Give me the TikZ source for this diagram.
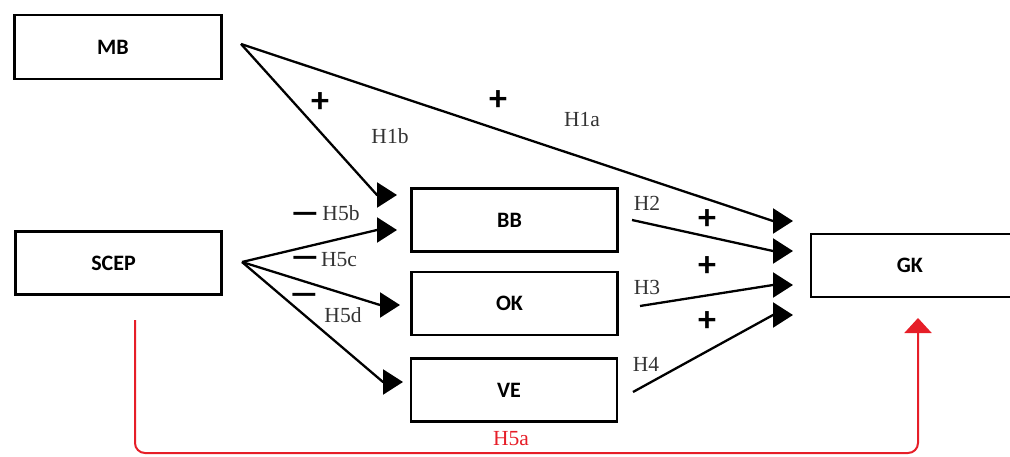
\documentclass[tikz,border=0pt]{standalone}
\usepackage{fontspec}
\setmainfont{Liberation Serif}
\newfontfamily\calib{Carlito}
\usetikzlibrary{arrows.meta}
\definecolor{hypred}{RGB}{230,30,40}
\begin{document}
\begin{tikzpicture}[x=1pt,y=-1pt,
  var/.style={draw, line width=2.6pt, minimum width=206pt, minimum height=63pt,
    inner sep=0pt, font=\calib\bfseries\fontsize{22}{24}\selectfont,
    execute at begin node={\hspace*{-10pt}}},
  link/.style={line width=2.3pt, line join=round,
    -{Triangle[length=20pt,width=25pt]}},
  redlink/.style={draw=hypred, line width=2pt, rounded corners=10pt,
    -{Triangle[length=15pt,width=27pt]}},
  hyp/.style={font=\fontsize{21.5}{24}\selectfont, text=black!80, inner sep=0pt},
  sign/.style={font=\calib\bfseries\fontsize{36}{36}\selectfont, inner sep=0pt},
  neg/.style={font=\calib\bfseries\fontsize{34}{34}\selectfont, inner sep=0pt, anchor=base}]
\clip (0,0) rectangle (1010,457);

% constructs
\node[var, minimum width=207pt, minimum height=64pt] (mb) at (118,47) {MB};
\node[var] (scep) at (118.5,263) {SCEP};
\node[var] (bb) at (514.5,220) {BB};
\node[var] (ok) at (514.5,303.5) {OK};
\node[var] (ve) at (514,390) {VE};
\node[var, minimum width=208pt] (gk) at (915,265.5) {GK};

% connector end points
\coordinate (mbout) at (241,44);
\coordinate (scepout) at (242,262);
\coordinate (bbout) at (632,220);
\coordinate (okout) at (640,306);
\coordinate (veout) at (633,392);
\coordinate (bbin1) at (377,195);
\coordinate (bbin2) at (377,230);
\coordinate (okin) at (380,305);
\coordinate (vein) at (383,382);
\coordinate (gkin1) at (773,221);
\coordinate (gkin2) at (773,251);
\coordinate (gkin3) at (773,285);
\coordinate (gkin4) at (773,315);
\coordinate (scepdown) at (135,320);
\coordinate (redbottom) at (526,453);
\coordinate (gkup) at (918,318);

% paths
\draw[link] (mbout) -- (bbin1) -- ++(20,0);
\draw[link] (mbout) -- (gkin1) -- ++(20,0);
\draw[link] (scepout) -- (bbin2) -- ++(20,0);
\draw[link] (scepout) -- (okin) -- ++(20,0);
\draw[link] (scepout) -- (vein) -- ++(20,0);
\draw[link] (bbout) -- (gkin2) -- ++(20,0);
\draw[link] (okout) -- (gkin3) -- ++(20,0);
\draw[link] (veout) -- (gkin4) -- ++(20,0);
\draw[redlink] (scepdown) |- (redbottom) -| (gkup);

% hypothesis labels
\node[hyp] (h1b) at (390,136) {H1b};
\node[hyp] (h1a) at (582,120) {H1a};
\node[hyp] (h2) at (647,203) {H2};
\node[hyp] (h3) at (647,287) {H3};
\node[hyp] (h4) at (646,364) {H4};
\node[hyp] (h5b) at (341,213) {H5b};
\node[hyp] (h5c) at (339,260) {H5c};
\node[hyp] (h5d) at (343,315) {H5d};
\node[hyp, text=hypred] (h5a) at (511,439) {H5a};

% signs
\node[sign] (s1b) at (320,103) {+};
\node[sign] (s1a) at (498,101) {+};
\node[sign] (s2) at (707,220) {+};
\node[sign] (s3) at (707,267) {+};
\node[sign] (s4) at (707,322) {+};
\node[neg] (n5b) at (305,224) {\scalebox{1.9}[1]{–}};
\node[neg] (n5c) at (305,268) {\scalebox{1.9}[1]{–}};
\node[neg] (n5d) at (304,305) {\scalebox{1.9}[1]{–}};
\end{tikzpicture}
\end{document}
